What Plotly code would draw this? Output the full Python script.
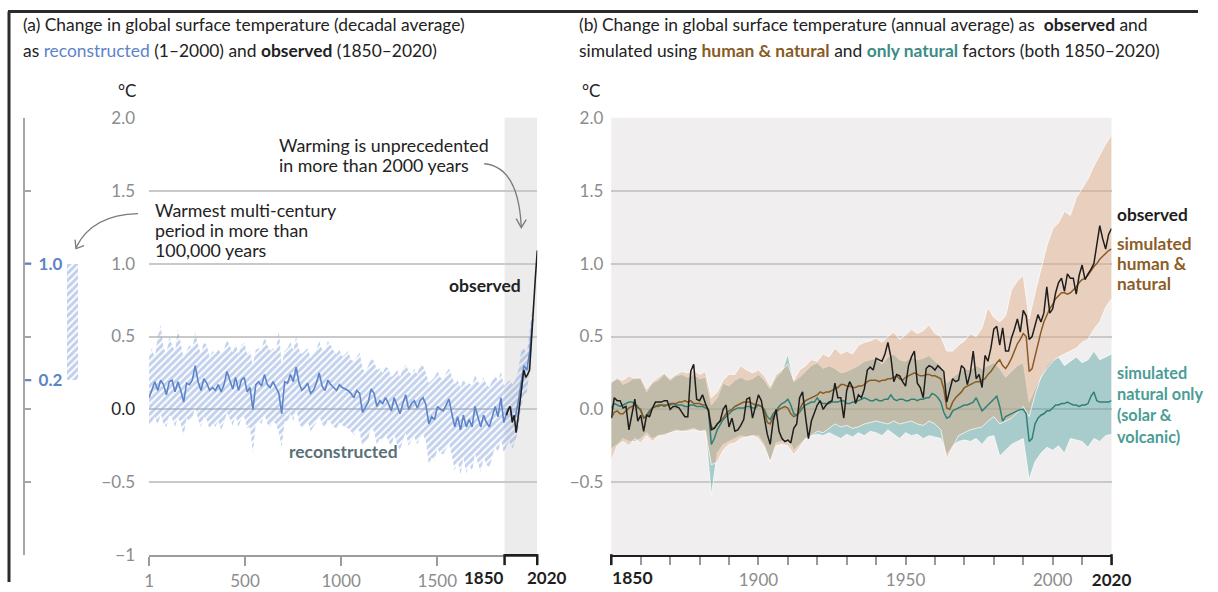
import plotly.graph_objects as go

# ---------------- data ----------------
# panel (a): reconstructed (every 15 years from year 1) and observed decadal means
recon_years = list(range(1, 2000, 15))
recon_mid = [
    0.08, 0.14, 0.19, 0.13, 0.20, 0.17, 0.10, 0.19, 0.20, 0.12,
    0.19, 0.13, 0.05, 0.18, 0.17, 0.20, 0.30, 0.19, 0.13, 0.21,
    0.18, 0.13, 0.15, 0.13, 0.17, 0.12, 0.17, 0.26, 0.20, 0.14,
    0.22, 0.13, 0.20, 0.22, 0.12, 0.15, 0.00, 0.17, 0.19, 0.16,
    0.24, 0.17, 0.15, 0.19, 0.15, 0.11, -0.03, 0.19, 0.18, 0.24,
    0.19, 0.29, 0.18, 0.13, 0.15, 0.18, 0.11, 0.13, 0.18, 0.25,
    0.16, 0.13, 0.20, 0.17, 0.15, 0.13, 0.17, 0.15, 0.14, 0.13,
    0.11, 0.08, 0.13, 0.11, -0.02, 0.02, 0.05, 0.14, 0.11, 0.02,
    0.06, 0.04, 0.08, 0.04, -0.01, 0.08, 0.02, -0.03, 0.04, 0.10,
    0.00, 0.04, 0.06, 0.01, 0.06, 0.08, 0.03, -0.10, -0.05, -0.07,
    0.02, 0.00, -0.01, 0.03, 0.07, -0.03, -0.12, -0.05, -0.14, -0.04,
    -0.12, -0.07, -0.12, 0.02, -0.05, -0.12, -0.04, -0.09, -0.12, -0.05,
    0.02, -0.05, 0.08, -0.09, -0.02, 0.02, -0.06, -0.05, 0.05, 0.18,
    0.30, 0.27, 0.40, 0.62,
]
recon_hi = [
    0.37, 0.42, 0.35, 0.50, 0.58, 0.42, 0.38, 0.50, 0.44, 0.40,
    0.55, 0.44, 0.35, 0.40, 0.44, 0.42, 0.53, 0.44, 0.38, 0.46,
    0.44, 0.36, 0.40, 0.38, 0.42, 0.38, 0.41, 0.48, 0.44, 0.39,
    0.45, 0.38, 0.44, 0.46, 0.38, 0.40, 0.30, 0.41, 0.42, 0.40,
    0.50, 0.44, 0.40, 0.42, 0.40, 0.54, 0.30, 0.40, 0.42, 0.46,
    0.40, 0.50, 0.41, 0.38, 0.40, 0.42, 0.35, 0.38, 0.41, 0.47,
    0.41, 0.40, 0.47, 0.44, 0.40, 0.38, 0.41, 0.36, 0.38, 0.40,
    0.34, 0.33, 0.36, 0.39, 0.28, 0.25, 0.30, 0.35, 0.33, 0.27,
    0.28, 0.25, 0.29, 0.28, 0.22, 0.24, 0.27, 0.22, 0.28, 0.31,
    0.26, 0.24, 0.28, 0.24, 0.31, 0.30, 0.25, 0.18, 0.20, 0.22,
    0.26, 0.22, 0.20, 0.25, 0.28, 0.22, 0.17, 0.20, 0.15, 0.21,
    0.16, 0.18, 0.16, 0.24, 0.19, 0.17, 0.22, 0.17, 0.15, 0.20,
    0.24, 0.19, 0.26, 0.16, 0.18, 0.20, 0.17, 0.20, 0.27, 0.40,
    0.42, 0.38, 0.55, 0.72,
]
recon_lo = [
    -0.12, -0.08, -0.05, -0.11, -0.03, -0.10, -0.12, -0.04, -0.06, -0.12,
    -0.05, -0.10, -0.18, -0.06, -0.08, -0.06, 0.02, -0.07, -0.12, -0.05,
    -0.07, -0.14, -0.10, -0.12, -0.08, -0.14, -0.09, -0.02, -0.06, -0.11,
    -0.04, -0.12, -0.06, -0.05, -0.13, -0.12, -0.30, -0.10, -0.08, -0.10,
    -0.03, -0.10, -0.12, -0.08, -0.10, -0.16, -0.26, -0.08, -0.09, -0.03,
    -0.08, 0.01, -0.09, -0.13, -0.11, -0.08, -0.15, -0.12, -0.09, -0.04,
    -0.10, -0.13, -0.07, -0.09, -0.12, -0.13, -0.09, -0.11, -0.12, -0.13,
    -0.15, -0.18, -0.13, -0.15, -0.26, -0.22, -0.20, -0.12, -0.15, -0.24,
    -0.20, -0.21, -0.17, -0.22, -0.26, -0.17, -0.24, -0.28, -0.21, -0.16,
    -0.25, -0.21, -0.19, -0.24, -0.19, -0.17, -0.22, -0.38, -0.33, -0.35,
    -0.27, -0.30, -0.31, -0.27, -0.23, -0.32, -0.42, -0.35, -0.45, -0.33,
    -0.44, -0.37, -0.43, -0.30, -0.36, -0.43, -0.33, -0.38, -0.40, -0.32,
    -0.25, -0.30, -0.20, -0.30, -0.25, -0.22, -0.27, -0.22, -0.14, 0.02,
    0.10, 0.12, 0.28, 0.52,
]
obs_dec_years = list(range(1860, 2021, 10))
obs_dec = [-0.04, 0.00, 0.02, -0.09, -0.04, -0.16, -0.06, 0.05, 0.16,
           0.27, 0.22, 0.24, 0.27, 0.50, 0.66, 0.90, 1.09]

# warmest multi-century period (bar beside panel a)
warm_period = [0.2, 1.0]

# panel (b): annual values 1850-2020
years = list(range(1850, 2021))
observed = [
    -0.06, 0.08, 0.06, 0.06, 0.01, 0.02, -0.14, -0.02, 0.07, -0.08,
    -0.04, -0.15, -0.04, -0.05, 0.01, 0.05, 0.05, 0.05, 0.06, 0.06,
    0.00, 0.02, 0.02, 0.01, -0.02, -0.05, -0.05, 0.26, 0.31, 0.07,
    0.06, 0.10, 0.04, -0.01, -0.14, -0.13, -0.10, -0.08, 0.00, 0.03,
    -0.12, -0.06, -0.15, -0.14, -0.11, -0.07, 0.07, 0.08, -0.06, 0.02,
    0.10, 0.06, -0.06, -0.17, -0.24, -0.08, 0.00, -0.15, -0.20, -0.22,
    -0.21, -0.23, -0.13, -0.10, 0.08, 0.12, -0.05, -0.20, -0.08, -0.02,
    0.03, 0.06, 0.00, 0.03, 0.05, 0.06, 0.18, 0.08, 0.08, -0.06,
    0.13, 0.19, 0.15, 0.04, 0.10, 0.08, 0.14, 0.27, 0.29, 0.27,
    0.35, 0.34, 0.33, 0.38, 0.46, 0.36, 0.19, 0.24, 0.23, 0.19,
    0.16, 0.30, 0.36, 0.40, 0.18, 0.15, 0.08, 0.28, 0.30, 0.29,
    0.27, 0.30, 0.28, 0.26, 0.05, 0.14, 0.21, 0.19, 0.20, 0.30,
    0.28, 0.17, 0.25, 0.40, 0.21, 0.24, 0.15, 0.37, 0.33, 0.42,
    0.55, 0.57, 0.44, 0.56, 0.40, 0.40, 0.49, 0.55, 0.62, 0.53,
    0.68, 0.64, 0.48, 0.50, 0.57, 0.65, 0.60, 0.66, 0.84, 0.66,
    0.69, 0.80, 0.87, 0.90, 0.81, 0.93, 0.90, 0.90, 0.79, 0.92,
    0.99, 0.89, 0.93, 0.96, 1.00, 1.12, 1.26, 1.17, 1.10, 1.20,
    1.24,
]
sim_human_natural = [
    -0.06, -0.02, -0.01, -0.03, -0.03, -0.01, 0.01, 0.02, 0.03, 0.01,
    0.00, -0.06, -0.05, -0.02, 0.01, 0.02, 0.03, 0.03, 0.02, 0.03,
    0.03, 0.04, 0.04, 0.05, 0.05, 0.06, 0.05, 0.06, 0.04, 0.04,
    0.04, 0.03, 0.03, 0.00, -0.12, -0.13, -0.10, -0.08, -0.06, -0.03,
    -0.01, 0.00, 0.02, 0.03, 0.04, 0.05, 0.05, 0.05, 0.04, 0.03,
    0.03, 0.02, -0.01, -0.09, -0.10, -0.05, -0.02, 0.00, 0.01, 0.02,
    0.01, -0.03, -0.05, -0.04, 0.00, 0.04, 0.06, 0.07, 0.08, 0.09,
    0.10, 0.12, 0.11, 0.12, 0.12, 0.13, 0.14, 0.15, 0.17, 0.17,
    0.16, 0.16, 0.15, 0.15, 0.16, 0.16, 0.17, 0.19, 0.20, 0.20,
    0.20, 0.19, 0.20, 0.20, 0.21, 0.21, 0.22, 0.23, 0.21, 0.20,
    0.22, 0.23, 0.24, 0.25, 0.24, 0.23, 0.23, 0.24, 0.24, 0.23,
    0.23, 0.22, 0.21, 0.14, 0.01, 0.00, 0.05, 0.08, 0.10, 0.12,
    0.15, 0.16, 0.17, 0.18, 0.19, 0.19, 0.20, 0.21, 0.24, 0.26,
    0.29, 0.32, 0.34, 0.30, 0.28, 0.31, 0.35, 0.40, 0.45, 0.48,
    0.52, 0.50, 0.26, 0.28, 0.37, 0.45, 0.53, 0.60, 0.65, 0.69,
    0.72, 0.76, 0.78, 0.80, 0.80, 0.79, 0.80, 0.82, 0.84, 0.87,
    0.89, 0.90, 0.92, 0.95, 0.98, 1.00, 1.03, 1.05, 1.07, 1.09,
    1.10,
]
sim_natural = [
    0.01, 0.04, 0.03, 0.02, 0.03, 0.04, 0.05, 0.05, 0.04, 0.02,
    -0.01, -0.06, -0.04, -0.01, 0.01, 0.02, 0.02, 0.03, 0.03, 0.03,
    0.04, 0.04, 0.03, 0.03, 0.03, 0.02, 0.02, 0.03, 0.03, 0.02,
    0.02, 0.02, 0.01, 0.00, -0.24, -0.20, -0.14, -0.10, -0.07, -0.05,
    -0.03, -0.01, 0.00, 0.01, 0.01, 0.01, 0.02, 0.02, 0.01, 0.01,
    0.03, 0.02, 0.00, -0.05, -0.07, -0.03, -0.01, 0.02, 0.04, 0.05,
    0.07, 0.03, -0.03, -0.04, -0.02, 0.01, 0.03, 0.04, 0.05, 0.05,
    0.08, 0.05, 0.04, 0.04, 0.04, 0.05, 0.05, 0.05, 0.06, 0.06,
    0.04, 0.04, 0.05, 0.05, 0.06, 0.07, 0.08, 0.07, 0.06, 0.06,
    0.07, 0.06, 0.06, 0.07, 0.07, 0.10, 0.07, 0.06, 0.07, 0.07,
    0.06, 0.06, 0.07, 0.07, 0.06, 0.07, 0.07, 0.08, 0.08, 0.11,
    0.10, 0.08, 0.05, -0.02, -0.06, -0.05, -0.01, 0.00, 0.01, 0.02,
    0.03, 0.03, 0.04, 0.05, 0.08, 0.04, -0.01, 0.01, 0.03, 0.05,
    0.07, 0.09, 0.02, -0.08, -0.05, -0.04, -0.03, -0.02, -0.01, 0.00,
    0.00, -0.03, -0.22, -0.20, -0.10, -0.06, -0.04, -0.03, -0.01, -0.01,
    0.01, 0.03, 0.03, 0.04, 0.04, 0.05, 0.04, 0.03, 0.03, 0.02,
    0.03, 0.03, 0.04, 0.09, 0.12, 0.06, 0.05, 0.05, 0.05, 0.05,
    0.06,
]

# model ranges, every second year 1850-2020
band_years = list(range(1850, 2021, 2))
hn_hi = [
    0.19, 0.21, 0.20, 0.23, 0.21, 0.22, 0.14, 0.19, 0.22, 0.25,
    0.21, 0.24, 0.26, 0.25, 0.27, 0.24, 0.26, 0.08, 0.12, 0.20,
    0.24, 0.24, 0.30, 0.27, 0.25, 0.27, 0.23, 0.16, 0.24, 0.27,
    0.31, 0.20, 0.27, 0.30, 0.34, 0.33, 0.38, 0.36, 0.42, 0.38,
    0.40, 0.38, 0.44, 0.46, 0.47, 0.49, 0.46, 0.50, 0.53, 0.48,
    0.51, 0.55, 0.52, 0.54, 0.58, 0.52, 0.50, 0.40, 0.40, 0.44,
    0.47, 0.52, 0.50, 0.56, 0.70, 0.63, 0.60, 0.64, 0.82, 0.88,
    0.92, 0.62, 0.80, 0.96, 1.12, 1.24, 1.28, 1.36, 1.33, 1.45,
    1.52, 1.58, 1.67, 1.75, 1.82, 1.88,
]
hn_lo = [
    -0.35, -0.25, -0.22, -0.25, -0.20, -0.23, -0.18, -0.22, -0.18, -0.18,
    -0.16, -0.15, -0.15, -0.15, -0.14, -0.15, -0.15, -0.38, -0.36, -0.28,
    -0.24, -0.23, -0.20, -0.19, -0.18, -0.20, -0.26, -0.36, -0.25, -0.24,
    -0.25, -0.31, -0.26, -0.20, -0.18, -0.15, -0.16, -0.13, -0.10, -0.12,
    -0.11, -0.13, -0.12, -0.10, -0.09, -0.08, -0.09, -0.10, -0.08, -0.10,
    -0.09, -0.08, -0.10, -0.11, -0.08, -0.10, -0.14, -0.34, -0.26, -0.18,
    -0.16, -0.14, -0.13, -0.12, -0.08, -0.05, -0.10, -0.08, -0.06, -0.02,
    0.02, -0.05, 0.10, 0.22, 0.28, 0.33, 0.36, 0.38, 0.40, 0.42,
    0.46, 0.48, 0.55, 0.60, 0.70, 0.76,
]
nat_hi = [
    0.18, 0.22, 0.17, 0.19, 0.22, 0.21, 0.12, 0.18, 0.20, 0.24,
    0.20, 0.23, 0.24, 0.22, 0.24, 0.21, 0.22, 0.03, 0.08, 0.18,
    0.16, 0.20, 0.22, 0.20, 0.21, 0.24, 0.20, 0.14, 0.22, 0.26,
    0.38, 0.19, 0.22, 0.26, 0.30, 0.32, 0.28, 0.30, 0.28, 0.25,
    0.26, 0.28, 0.30, 0.33, 0.34, 0.35, 0.31, 0.36, 0.38, 0.34,
    0.33, 0.36, 0.34, 0.35, 0.37, 0.33, 0.30, 0.18, 0.22, 0.25,
    0.28, 0.27, 0.30, 0.28, 0.30, 0.32, 0.28, 0.22, 0.26, 0.30,
    0.32, 0.05, 0.14, 0.22, 0.30, 0.34, 0.36, 0.30, 0.33, 0.36,
    0.32, 0.34, 0.40, 0.34, 0.36, 0.38,
]
nat_lo = [
    -0.27, -0.24, -0.20, -0.22, -0.22, -0.20, -0.16, -0.20, -0.18, -0.17,
    -0.16, -0.14, -0.15, -0.14, -0.13, -0.15, -0.14, -0.59, -0.30, -0.24,
    -0.22, -0.20, -0.18, -0.19, -0.18, -0.18, -0.24, -0.36, -0.23, -0.22,
    -0.20, -0.28, -0.24, -0.20, -0.18, -0.17, -0.18, -0.16, -0.18, -0.20,
    -0.17, -0.19, -0.16, -0.18, -0.15, -0.16, -0.18, -0.14, -0.17, -0.20,
    -0.16, -0.18, -0.17, -0.20, -0.18, -0.19, -0.20, -0.31, -0.25, -0.22,
    -0.21, -0.22, -0.20, -0.24, -0.19, -0.18, -0.32, -0.28, -0.24, -0.22,
    -0.20, -0.48, -0.36, -0.30, -0.26, -0.28, -0.25, -0.30, -0.20, -0.21,
    -0.22, -0.26, -0.20, -0.22, -0.18, -0.17,
]

y_ticks = [-1, -0.5, 0, 0.5, 1, 1.5, 2]
x_ticks_a = [1, 500, 1000, 1500]
x_ticks_b = list(range(1850, 2021, 10))

# ---------------- styling ----------------
W, H = 1218, 592
FONT = "Lato"
GRAY = "#8c8c8c"
GRID = "#c9c9c9"
BLUE = "#5d84c8"
BROWN = "#8a5a24"
TEAL = "#2f8079"
TEAL_TXT = "#4a9d95"
DARK = "#1e1e1e"

# the captured page comes out slightly shrunk and shifted; positions below are
# given in captured-picture pixels and converted back to figure pixels
SX, OX = 0.979, 5.0
SY, OY = 0.966, 10.0

# plot areas (picture pixels)
A_L, A_R = 149, 537
B_L, B_R = 611, 1111
P_T, P_B = 117, 555


def px(x):
    return ((x - OX) / SX) / W


def py(y):
    return 1 - ((y - OY) / SY) / H


def xa(year):
    return A_L + (year - 1) * (A_R - A_L) / 2019


def xb(year):
    return B_L + (year - 1850) * (B_R - B_L) / 170


tick_font = dict(family=FONT, size=17, color=GRAY)

fig = go.Figure()

# ---- panel (a)
fig.add_trace(go.Scatter(x=recon_years, y=recon_lo, mode="lines", line=dict(width=0),
                         hoverinfo="skip", showlegend=False, xaxis="x", yaxis="y"))
fig.add_trace(go.Scatter(x=recon_years, y=recon_hi, mode="lines", line=dict(width=0),
                         fill="tonexty", fillcolor="rgba(0,0,0,0)",
                         fillpattern=dict(shape="/", fgcolor="#86a3db", bgcolor="rgba(255,255,255,0)",
                                          size=5, solidity=0.6),
                         hoverinfo="skip", showlegend=False, xaxis="x", yaxis="y"))
fig.add_trace(go.Scatter(x=recon_years, y=recon_mid, mode="lines", line=dict(color=BLUE, width=1.6),
                         showlegend=False, xaxis="x", yaxis="y"))
fig.add_trace(go.Scatter(x=obs_dec_years, y=obs_dec, mode="lines", line=dict(color=DARK, width=1.6),
                         showlegend=False, xaxis="x", yaxis="y"))

# warmest multi-century period bar
fig.add_trace(go.Bar(x=[6.8], y=[warm_period[1] - warm_period[0]], base=[warm_period[0]], width=[1.6],
                     marker=dict(color="white", line=dict(width=0),
                                 pattern=dict(shape="/", fgcolor="#86a2da", bgcolor="white",
                                              size=5, solidity=0.6)),
                     showlegend=False, xaxis="x3", yaxis="y3"))

# ---- panel (b)
edge = dict(color="rgba(255,255,255,0.9)", width=0.8)
fig.add_trace(go.Scatter(x=band_years, y=nat_lo, mode="lines", line=edge, hoverinfo="skip",
                         showlegend=False, xaxis="x2", yaxis="y2"))
fig.add_trace(go.Scatter(x=band_years, y=nat_hi, mode="lines", line=edge, fill="tonexty",
                         fillcolor="rgba(80,160,160,0.45)", hoverinfo="skip",
                         showlegend=False, xaxis="x2", yaxis="y2"))
fig.add_trace(go.Scatter(x=band_years, y=hn_lo, mode="lines", line=edge, hoverinfo="skip",
                         showlegend=False, xaxis="x2", yaxis="y2"))
fig.add_trace(go.Scatter(x=band_years, y=hn_hi, mode="lines", line=edge, fill="tonexty",
                         fillcolor="rgba(225,170,130,0.45)", hoverinfo="skip",
                         showlegend=False, xaxis="x2", yaxis="y2"))
fig.add_trace(go.Scatter(x=years, y=sim_natural, mode="lines", line=dict(color=TEAL, width=1.5),
                         showlegend=False, xaxis="x2", yaxis="y2"))
fig.add_trace(go.Scatter(x=years, y=sim_human_natural, mode="lines", line=dict(color=BROWN, width=1.5),
                         showlegend=False, xaxis="x2", yaxis="y2"))
fig.add_trace(go.Scatter(x=years, y=observed, mode="lines", line=dict(color=DARK, width=1.5),
                         showlegend=False, xaxis="x2", yaxis="y2"))


def fmt(v):
    s = f"{abs(v):.1f}" if v != -1 else "1"
    return ("−" + s) if v < 0 else s


yt_a = [fmt(v) if v != 0 else f'<span style="color:{DARK}">0.0</span>' for v in y_ticks]
yt_b = ["" if v == -1 else fmt(v) for v in y_ticks]
xt_b = []
for v in x_ticks_b:
    if v in (1900, 1950, 2000):
        xt_b.append(str(v))
    elif v == 2020:
        xt_b.append(f'<span style="color:{DARK}"><b>{v}</b></span>')
    else:
        xt_b.append("")

mini_vals = [-1, -0.5, 0, 0.5, 1.5, 2] + warm_period
mini_text = ["", "", "", "", "", ""] + [f"{v:.1f}" for v in warm_period]

dom_y = [py(P_B), py(P_T)]


def pline(x0, y0, x1, y1, color, width):
    return dict(type="line", xref="paper", yref="paper", x0=px(x0), x1=px(x1), y0=py(y0), y1=py(y1),
                line=dict(color=color, width=width))


def ppath(points, curve=False):
    p = [f"{px(x)},{py(y)}" for x, y in points]
    path = f"M {p[0]} Q {p[1]} {p[2]}" if curve else "M " + " L ".join(p)
    return dict(type="path", xref="paper", yref="paper", path=path, line=dict(color="#7a7a7a", width=1.3))


shapes = [
    dict(type="rect", xref="x2 domain", yref="y2 domain", x0=0, x1=1, y0=0, y1=1,
         fillcolor="#f0eeef", line=dict(width=0), layer="below"),
    dict(type="rect", xref="x", yref="y domain", x0=1850, x1=2020, y0=0, y1=1,
         fillcolor="#ececec", line=dict(width=0), layer="below"),
    # black brackets marking 1850-2020
    pline(xa(1850), P_B, xa(2020), P_B, DARK, 2.5),
    pline(xa(1850), P_B - 1, xa(1850), P_B + 10, DARK, 2.5),
    pline(xa(2020), P_B - 1, xa(2020), P_B + 10, DARK, 2.5),
    pline(xb(1850), P_B - 1, xb(1850), P_B + 10, DARK, 2.5),
    pline(xb(2020), P_B - 1, xb(2020), P_B + 10, DARK, 2.5),
    # frame
    dict(type="line", xref="paper", yref="paper", x0=px(8), x1=1.0, y0=py(10.5), y1=py(10.5),
         line=dict(color="#2b2b2b", width=3)),
    dict(type="line", xref="paper", yref="paper", x0=px(9), x1=px(9), y0=py(10.5), y1=0,
         line=dict(color="#2b2b2b", width=3)),
    # curved arrows
    ppath([(484, 163), (518, 166), (521, 226)], curve=True),
    ppath([(516, 218), (521, 227), (526, 219)]),
    ppath([(138, 213), (92, 214), (76, 247)], curve=True),
    ppath([(75, 239), (76, 248), (84, 245)]),
]
for v in warm_period:
    shapes.append(dict(type="line", xref="x3", yref="y3", x0=0, x1=0.9, y0=v, y1=v,
                       line=dict(color=BLUE, width=2)))


def note(text, x, y, size=17.8, color="#222", xanchor="left", **kw):
    return dict(text=text, x=px(x), y=py(y), xref="paper", yref="paper", xanchor=xanchor,
                yanchor="middle", showarrow=False, align="left",
                font=dict(family=FONT, size=size, color=color), **kw)


annotations = [
    note("(a) Change in global surface temperature (decadal average)", 21, 24, size=17.4),
    note(f'as <span style="color:{BLUE}">reconstructed</span> (1–2000) and <b>observed</b> (1850–2020)',
         21, 50, size=17.4),
    note("(b) Change in global surface temperature (annual average) as  <b>observed</b> and", 577, 24, size=17.4),
    note(f'simulated using <span style="color:{BROWN}"><b>human &amp; natural</b></span> and '
         f'<span style="color:#3d8c84"><b>only natural</b></span> factors (both 1850–2020)', 577, 50, size=17.4),
    note("°C", 127, 90, size=17, xanchor="center"),
    note("°C", 591, 90, size=17, xanchor="center"),
    note("<b>observed</b>", 447, 285, size=17.5),
    note("<b>reconstructed</b>", 287, 451, size=17.5, color="#5a6f78"),
    note("<b>observed</b>", 1114, 214, size=17.3, color=DARK),
    note("<b>simulated<br>natural only<br>(solar &amp;<br>volcanic)</b>", 1114, 404, size=16.3,
         color=TEAL_TXT),
    note("<b>1850</b>", xa(1850) + 1, 577, size=17, color=DARK, xanchor="right"),
    note("<b>2020</b>", xa(2020) - 12, 577, size=17, color=DARK),
    note("<b>1850</b>", xb(1850) - 1, 577, size=17.5, color=DARK),
]
for i, line in enumerate(["Warming is unprecedented", "in more than 2000 years"]):
    annotations.append(note(line, 277, 144 + 20 * i))
for i, line in enumerate(["Warmest multi-century", "period in more than", "100,000 years"]):
    annotations.append(note(line, 153, 209 + 20 * i))
for i, line in enumerate(["simulated", "human &amp;", "natural"]):
    annotations.append(note(f"<b>{line}</b>", 1114, 243 + 20 * i, size=17.3, color="#8d5d28"))

fig.update_layout(
    width=W, height=H, autosize=False,
    margin=dict(l=0, r=0, t=0, b=0),
    paper_bgcolor="white", plot_bgcolor="white",
    font=dict(family=FONT, color="#222"),
    showlegend=False,
    bargap=0,
    xaxis=dict(domain=[px(A_L), px(A_R)], range=[1, 2020], anchor="y", showgrid=False, zeroline=False,
               showline=True, linecolor="#9c9c9c", linewidth=2, ticks="outside", ticklen=9, tickwidth=2,
               tickcolor="#9c9c9c", tickvals=x_ticks_a, ticktext=[str(v) for v in x_ticks_a],
               tickfont=tick_font, fixedrange=True),
    yaxis=dict(domain=dom_y, range=[-1, 2], anchor="x", showgrid=True, gridcolor=GRID, gridwidth=2,
               zeroline=False, showline=False, ticks="", tickvals=y_ticks, ticktext=yt_a,
               tickfont=tick_font, ticklabelstandoff=13, fixedrange=True),
    xaxis2=dict(domain=[px(B_L), px(B_R)], range=[1850, 2020], anchor="y2", showgrid=False, zeroline=False,
                showline=True, linecolor=DARK, linewidth=2, ticks="outside", ticklen=8, tickwidth=1.5,
                tickcolor="#9a9a9a", tickvals=x_ticks_b, ticktext=xt_b, tickfont=tick_font, fixedrange=True),
    yaxis2=dict(domain=dom_y, range=[-1, 2], anchor="x2", showgrid=True, gridcolor=GRID, gridwidth=2,
                zeroline=False, showline=False, ticks="", tickvals=y_ticks, ticktext=yt_b,
                tickfont=tick_font, ticklabelstandoff=7, fixedrange=True),
    xaxis3=dict(domain=[px(25), px(95)], range=[0, 10], anchor="y3", visible=False, fixedrange=True),
    yaxis3=dict(domain=dom_y, range=[-1, 2], anchor="x3", showgrid=False, zeroline=False, showline=True,
                linecolor="#a6a6a6", linewidth=2, ticks="inside", ticklen=6, tickwidth=2, tickcolor="#a6a6a6",
                tickvals=mini_vals, ticktext=mini_text, ticklabelposition="inside", ticklabelstandoff=8,
                tickfont=dict(family=FONT, size=17, color=BLUE, weight="bold"), fixedrange=True),
    shapes=shapes,
    annotations=annotations,
)

fig.write_html("out.html", config={"displayModeBar": False},
               post_script="document.body.style.margin='0px';document.body.style.overflow='hidden';")
